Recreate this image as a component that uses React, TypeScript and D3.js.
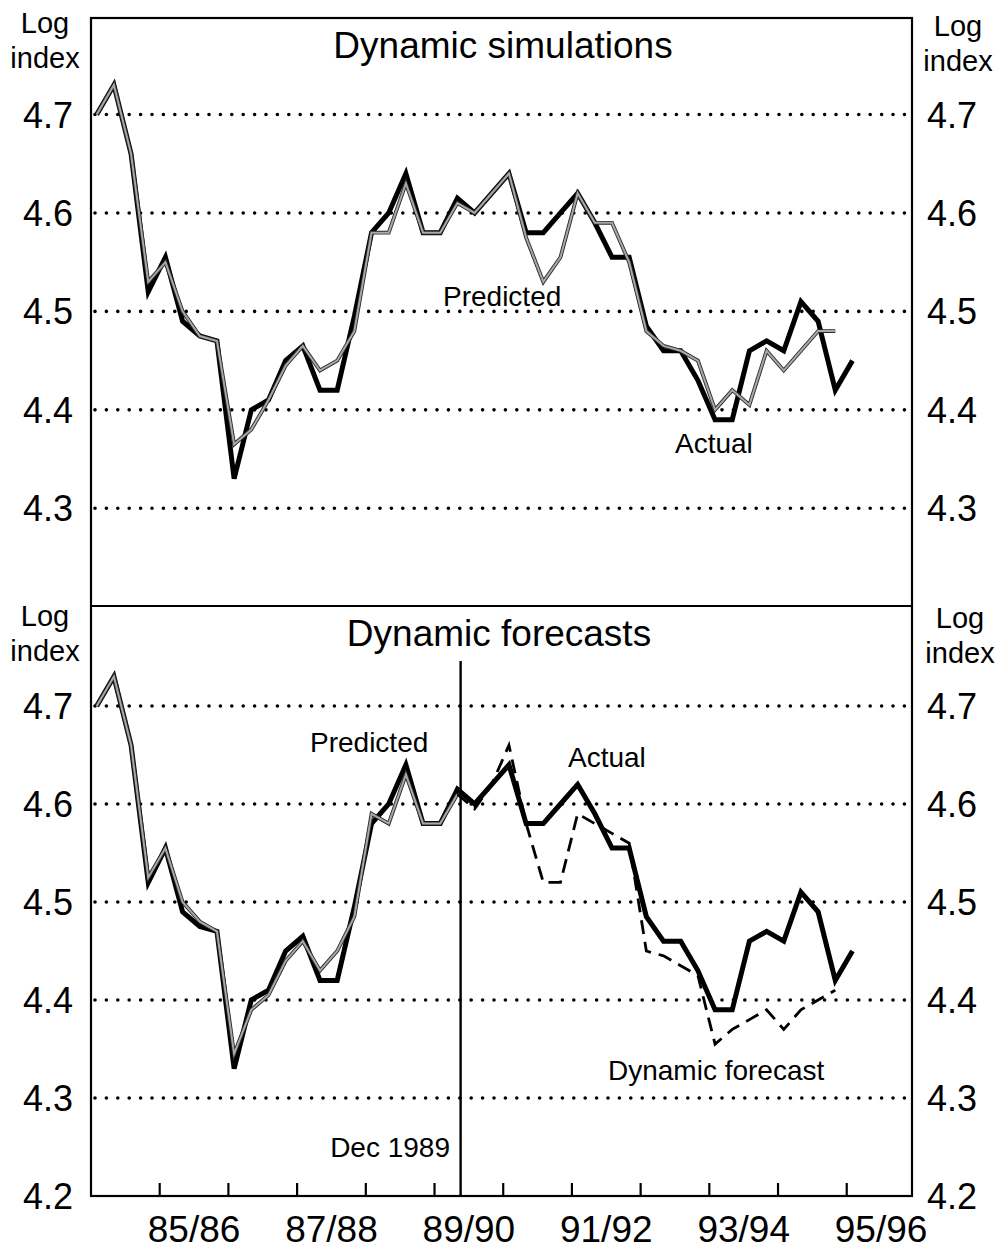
import React from "react";
import * as d3 from "d3";

// ---- data (quarterly, mid-quarter month) ----
const quarters = [
  "1984-08", "1984-11", "1985-02", "1985-05", "1985-08", "1985-11", "1986-02", "1986-05",
  "1986-08", "1986-11", "1987-02", "1987-05", "1987-08", "1987-11", "1988-02", "1988-05",
  "1988-08", "1988-11", "1989-02", "1989-05", "1989-08", "1989-11", "1990-02", "1990-05",
  "1990-08", "1990-11", "1991-02", "1991-05", "1991-08", "1991-11", "1992-02", "1992-05",
  "1992-08", "1992-11", "1993-02", "1993-05", "1993-08", "1993-11", "1994-02", "1994-05",
  "1994-08", "1994-11", "1995-02", "1995-05", "1995-08",
];

const actual = [
  4.70, 4.73, 4.66, 4.52, 4.555, 4.49, 4.475, 4.47, 4.33, 4.40, 4.41, 4.45, 4.465, 4.42, 4.42,
  4.495, 4.58, 4.60, 4.64, 4.58, 4.58, 4.615, 4.60, 4.62, 4.64, 4.58, 4.58, 4.60, 4.62, 4.59,
  4.555, 4.555, 4.485, 4.46, 4.46, 4.43, 4.39, 4.39, 4.46, 4.47, 4.46, 4.51, 4.49, 4.42, 4.45,
];

// top panel: dynamic simulation (starts at first quarter)
const simPredicted = [
  4.70, 4.73, 4.66, 4.53, 4.55, 4.50, 4.475, 4.47, 4.365, 4.38, 4.41, 4.445, 4.465, 4.44, 4.45,
  4.48, 4.58, 4.58, 4.63, 4.58, 4.58, 4.61, 4.60, 4.62, 4.64, 4.575, 4.53, 4.555, 4.62, 4.59,
  4.59, 4.55, 4.48, 4.465, 4.46, 4.45, 4.40, 4.42, 4.405, 4.46, 4.44, 4.46, 4.48, 4.48,
];

// bottom panel: in-sample predicted (to Nov 1989) and dynamic forecast (from Nov 1989)
const fcPredicted = [
  4.70, 4.73, 4.66, 4.525, 4.555, 4.50, 4.48, 4.47, 4.345, 4.39, 4.405, 4.44, 4.46, 4.43, 4.45,
  4.485, 4.59, 4.58, 4.63, 4.58, 4.58, 4.61,
];
const forecastStartIndex = 21;
const dynamicForecast = [
  4.61, 4.595, 4.62, 4.66, 4.58, 4.52, 4.52, 4.59, 4.58, 4.57, 4.56, 4.45, 4.445, 4.435, 4.425,
  4.355, 4.37, 4.38, 4.39, 4.37, 4.39, 4.40, 4.41,
];

const forecastBreak = 1989.88; // Dec 1989
const yearTicks = [1985.5, 1986.5, 1987.5, 1988.5, 1989.5, 1990.5, 1991.5, 1992.5, 1993.5, 1994.5, 1995.5];
const yearLabels = [
  { at: 1986, text: "85/86" },
  { at: 1988, text: "87/88" },
  { at: 1990, text: "89/90" },
  { at: 1992, text: "91/92" },
  { at: 1994, text: "93/94" },
  { at: 1996, text: "95/96" },
];
const topTicks = [4.7, 4.6, 4.5, 4.4, 4.3];
const bottomGrid = [4.7, 4.6, 4.5, 4.4, 4.3];
const bottomLabels = [4.7, 4.6, 4.5, 4.4, 4.3, 4.2];

const FONT = "'Liberation Sans', Arial, Helvetica, sans-serif";

const toYear = (s: string) => {
  const [y, m] = s.split("-").map(Number);
  return y + (m - 1) / 12;
};
const times = quarters.map(toYear);

export default function App() {
  const W = 1002;
  const H = 1249;
  const left = 91;
  const right = 912;
  const topY0 = 18;
  const midY = 606;
  const botY1 = 1196;

  const x = d3.scaleLinear().domain([1984.5, 1996.45]).range([left, right]);
  const yTop = d3.scaleLinear().domain([4.3, 4.7]).range([508.3, 114.5]);
  const yBot = d3.scaleLinear().domain([4.2, 4.7]).range([1196, 706]);

  type P = { t: number; v: number };
  const mk = (vals: number[], start = 0): P[] => vals.map((v, i) => ({ t: times[start + i], v }));

  const lineTop = d3.line<P>().x((d) => x(d.t)).y((d) => yTop(d.v));
  const lineBot = d3.line<P>().x((d) => x(d.t)).y((d) => yBot(d.v));

  const dotted = {
    stroke: "#000",
    strokeWidth: 3.6,
    strokeDasharray: "0 11.4",
    strokeLinecap: "round" as const,
  };

  const predictedPath = (d: string | null, key: string) => (
    <g key={key}>
      <path d={d || ""} fill="none" stroke="#2a2a2a" strokeWidth={3.8} strokeLinejoin="miter" />
      <path d={d || ""} fill="none" stroke="#a8a8a8" strokeWidth={2} strokeLinejoin="miter" />
    </g>
  );

  return (
    <svg
      width={W}
      height={H}
      style={{ position: "absolute", left: 0, top: 0, background: "#fff" }}
      fontFamily={FONT}
    >
      <rect x={0} y={0} width={W} height={H} fill="#fff" />

      {/* gridlines */}
      {topTicks.map((v) => (
        <line key={"gt" + v} x1={left + 4} x2={right - 2} y1={yTop(v)} y2={yTop(v)} {...dotted} />
      ))}
      {bottomGrid.map((v) => (
        <line key={"gb" + v} x1={left + 4} x2={right - 2} y1={yBot(v)} y2={yBot(v)} {...dotted} />
      ))}

      {/* top panel lines */}
      <path d={lineTop(mk(actual)) || ""} fill="none" stroke="#000" strokeWidth={5} strokeLinejoin="miter" />
      {predictedPath(lineTop(mk(simPredicted)), "simp")}

      {/* bottom panel lines */}
      <path d={lineBot(mk(actual)) || ""} fill="none" stroke="#000" strokeWidth={5} strokeLinejoin="miter" />
      {predictedPath(lineBot(mk(fcPredicted)), "fcp")}
      <path
        d={lineBot(mk(dynamicForecast, forecastStartIndex)) || ""}
        fill="none"
        stroke="#000"
        strokeWidth={2.8}
        strokeDasharray="14 8"
      />

      {/* Dec 1989 line */}
      <line x1={x(forecastBreak)} x2={x(forecastBreak)} y1={661} y2={botY1} stroke="#000" strokeWidth={2.4} />

      {/* frames */}
      <rect x={left} y={topY0} width={right - left} height={botY1 - topY0} fill="none" stroke="#000" strokeWidth={2.2} />
      <line x1={left} x2={right} y1={midY} y2={midY} stroke="#000" strokeWidth={2} />

      {/* x ticks */}
      {yearTicks.map((t) => (
        <line key={"xt" + t} x1={x(t)} x2={x(t)} y1={botY1} y2={botY1 - 13} stroke="#000" strokeWidth={2.2} />
      ))}
      {yearLabels.map((l) => (
        <text key={l.text} x={x(l.at)} y={1242} fontSize={37} textAnchor="middle" fill="#000">
          {l.text}
        </text>
      ))}

      {/* y labels */}
      {topTicks.map((v) => (
        <g key={"ytl" + v}>
          <text x={73} y={yTop(v) + 13} fontSize={36} textAnchor="end">{v.toFixed(1)}</text>
          <text x={927} y={yTop(v) + 13} fontSize={36} textAnchor="start">{v.toFixed(1)}</text>
        </g>
      ))}
      {bottomLabels.map((v) => (
        <g key={"ybl" + v}>
          <text x={73} y={yBot(v) + 13} fontSize={36} textAnchor="end">{v.toFixed(1)}</text>
          <text x={927} y={yBot(v) + 13} fontSize={36} textAnchor="start">{v.toFixed(1)}</text>
        </g>
      ))}

      {/* axis unit labels */}
      {[
        { cx: 45, y1: 33, y2: 68 },
        { cx: 958, y1: 36, y2: 71 },
        { cx: 45, y1: 626, y2: 661 },
        { cx: 960, y1: 628, y2: 663 },
      ].map((p, i) => (
        <g key={"u" + i}>
          <text x={p.cx} y={p.y1} fontSize={29} textAnchor="middle">Log</text>
          <text x={p.cx} y={p.y2} fontSize={29} textAnchor="middle">index</text>
        </g>
      ))}

      {/* titles */}
      <text x={503} y={58} fontSize={37} textAnchor="middle">Dynamic simulations</text>
      <text x={499} y={646} fontSize={37} textAnchor="middle">Dynamic forecasts</text>

      {/* annotations */}
      <text x={443} y={306} fontSize={28}>Predicted</text>
      <text x={675} y={453} fontSize={28}>Actual</text>
      <text x={310} y={752} fontSize={28}>Predicted</text>
      <text x={568} y={767} fontSize={28}>Actual</text>
      <text x={608} y={1080} fontSize={28}>Dynamic forecast</text>
      <text x={450} y={1157} fontSize={28} textAnchor="end">Dec 1989</text>
    </svg>
  );
}
